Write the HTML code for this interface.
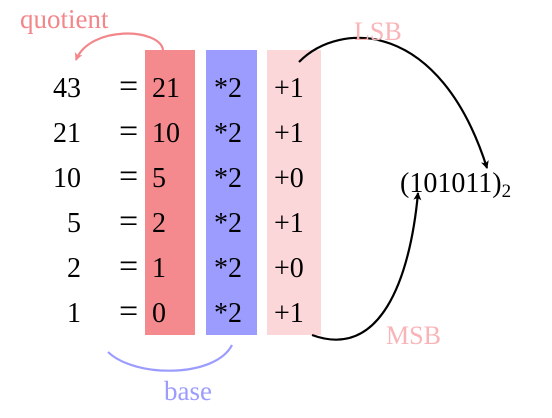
<!DOCTYPE html>
<html><head><meta charset="utf-8"><style>
html,body{margin:0;padding:0;background:#fff;}
svg{display:block;font-family:"Liberation Serif",serif;}
</style></head><body>
<svg id="c" width="552" height="418" viewBox="0 0 552 418">
<defs>
<marker id="ah" markerWidth="10" markerHeight="10" refX="8" refY="5" orient="auto" markerUnits="userSpaceOnUse"><path d="M1,1 L9,5 L1,9 L3,5 Z" fill="#000"/></marker>
<marker id="ahr" markerWidth="10" markerHeight="10" refX="8" refY="5" orient="auto" markerUnits="userSpaceOnUse"><path d="M1,1 L9,5 L1,9 L3,5 Z" fill="#f3868a"/></marker>
</defs>
<rect x="145" y="50" width="50" height="285" fill="#f58a8e"/>
<rect x="206" y="50" width="51" height="285" fill="#9c9cff"/>
<rect x="267" y="50" width="54" height="285" fill="#fcd7da"/>
<g id="rows"></g>
<text x="400" y="192" font-size="28">(101011)<tspan font-size="19" dy="5">2</tspan></text>
<path d="M163,50 C160,28 90,25 76,60" fill="none" stroke="#f3868a" stroke-width="2.2" marker-end="url(#ahr)"/>
<text x="20" y="28" font-size="27" fill="#f3868a">quotient</text>
<path d="M299,62 C340,20 440,20 487,168" fill="none" stroke="#000" stroke-width="2.2" marker-end="url(#ah)"/>
<text x="354" y="40" font-size="26" fill="#f9b4b8">LSB</text>
<path d="M312,335 C380,360 410,280 418,193" fill="none" stroke="#000" stroke-width="2.2" marker-end="url(#ah)"/>
<text x="386" y="344" font-size="26" fill="#f9b4b8">MSB</text>
<path d="M108,352 C135,378 215,378 232,345" fill="none" stroke="#9c9cff" stroke-width="2.2"/>
<text x="164" y="400" font-size="27" fill="#9c9cff">base</text>
</svg>
<script>
const dividends=["43","21","10","5","2","1"];
const quotients=["21","10","5","2","1","0"];
const remainders=["1","1","0","1","0","1"];
const g=document.getElementById('rows');
const NS="http://www.w3.org/2000/svg";
function t(x,y,s,name,anchor,fs){
  const e=document.createElementNS(NS,'text');
  e.setAttribute('x',x);e.setAttribute('y',y);e.setAttribute('font-size',fs||'28');
  if(anchor)e.setAttribute('text-anchor',anchor);
  e.textContent=s;
  
  
  g.appendChild(e);
}
dividends.forEach((d,i)=>{
  const y=97+i*45;
  t(81,y,d,'dividend-'+d,'end');
  t(119,y,'=','equals-sign',null,'34');
  t(152,y,quotients[i],'quotient-'+i);
  t(214,y,'*2','times-base-'+i);
  t(274,y,'+'+remainders[i],'remainder-'+i);
});
</script>
</body></html>
